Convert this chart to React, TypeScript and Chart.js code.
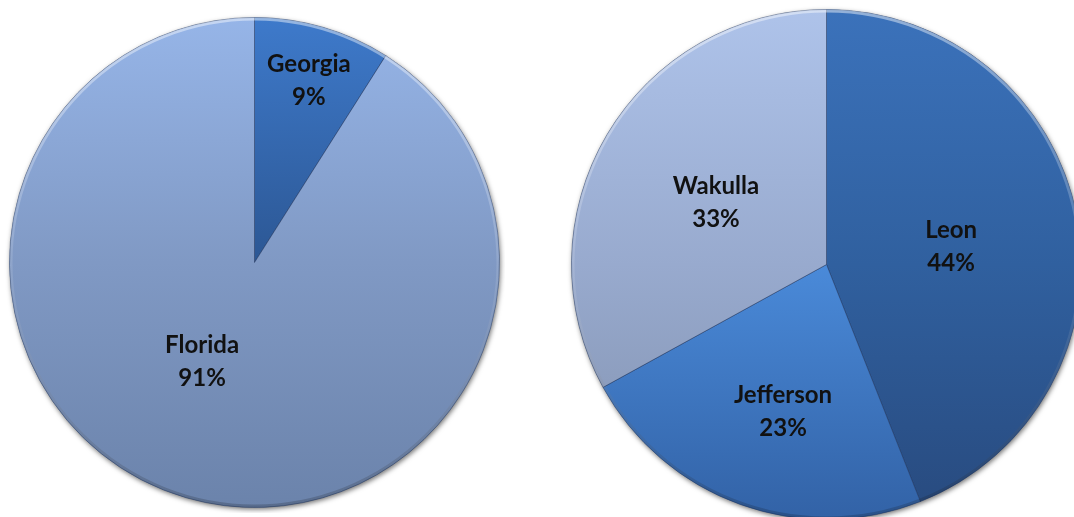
import React, { useEffect, useRef } from "react";
import { Chart, registerables } from "chart.js";

Chart.register(...registerables);

// ---- data ----
const stateLabels = ["Georgia", "Florida"];
const stateValues = [9, 91];

const countyLabels = ["Leon", "Jefferson", "Wakulla"];
const countyValues = [44, 23, 33];

// ---- styles ----
const stateGradients = [
  ["#3e7acb", "#2c5794", "#1f3f6e"],
  ["#96b5e8", "#8099c4", "#6b83ab"],
];
const countyGradients = [
  ["#3b72bb", "#30609f", "#284a7e"],
  ["#5ea2f5", "#4a8ad9", "#3262a6"],
  ["#aec3ea", "#98aace", "#8090ad"],
];
const stateLabelRadius = [0.777, 0.457];
const stateLabelShift = [0.4, 11.7];
const countyLabelRadius = [0.494, 0.6, 0.498];
const countyLabelShift = [2.4, -3.3, -1.1];

const FONT = "bold 24px Lato, 'Open Sans', sans-serif";

function makePie(
  canvas: HTMLCanvasElement,
  labels: string[],
  values: number[],
  grads: string[][],
  labelRadius: number[],
  labelShift: number[]
) {
  const total = values.reduce((a, b) => a + b, 0);
  const shadowPlugin = {
    id: "shadowPlugin",
    beforeDatasetsDraw(chart: any) {
      const arc = chart.getDatasetMeta(0).data[0];
      if (!arc) return;
      const { x, y, outerRadius } = arc.getProps(["x", "y", "outerRadius"], true);
      const ctx = chart.ctx;
      ctx.save();
      ctx.beginPath();
      ctx.arc(x, y, outerRadius, 0, Math.PI * 2);
      ctx.shadowColor = "rgba(0,0,0,0.55)";
      ctx.shadowBlur = 5;
      ctx.shadowOffsetX = 1;
      ctx.shadowOffsetY = 2;
      ctx.fillStyle = "#6a7fa0";
      ctx.fill();
      ctx.restore();
    },
    afterDatasetsDraw(chart: any) {
      const meta = chart.getDatasetMeta(0);
      const ctx = chart.ctx;
      const first = meta.data[0];
      if (!first) return;
      const { x: cx, y: cy, outerRadius: R } = first.getProps(["x", "y", "outerRadius"], true);
      // rim bevel
      ctx.save();
      const g = ctx.createLinearGradient(0, cy - R, 0, cy + R);
      g.addColorStop(0, "rgba(255,255,255,0.45)");
      g.addColorStop(0.5, "rgba(255,255,255,0.12)");
      g.addColorStop(1, "rgba(0,0,0,0.18)");
      ctx.strokeStyle = g;
      ctx.lineWidth = 3;
      ctx.beginPath();
      ctx.arc(cx, cy, R - 1.5, 0, Math.PI * 2);
      ctx.stroke();
      ctx.restore();
      // labels
      ctx.save();
      ctx.font = FONT;
      ctx.fillStyle = "#111";
      ctx.textAlign = "center";
      ctx.textBaseline = "middle";
      meta.data.forEach((arc: any, i: number) => {
        const { x, y, startAngle, endAngle, outerRadius } = arc.getProps(
          ["x", "y", "startAngle", "endAngle", "outerRadius"],
          true
        );
        const mid = (startAngle + endAngle) / 2 + (labelShift[i] * Math.PI) / 180;
        const d = outerRadius * labelRadius[i];
        const px = x + Math.cos(mid) * d;
        const py = y + Math.sin(mid) * d;
        const pct = Math.round((values[i] / total) * 100) + "%";
        ctx.fillText(labels[i], px, py - 16);
        ctx.fillText(pct, px, py + 17);
      });
      ctx.restore();
    },
  };

  return new Chart(canvas, {
    type: "pie",
    data: {
      labels,
      datasets: [
        {
          data: values,
          backgroundColor: (c: any) => {
            const chart = c.chart;
            const area = chart.chartArea;
            const stops = grads[c.dataIndex] || grads[0];
            if (!area) return stops[1];
            const g = chart.ctx.createLinearGradient(0, area.top, 0, area.bottom);
            g.addColorStop(0, stops[0]);
            g.addColorStop(0.5, stops[1]);
            g.addColorStop(1, stops[2]);
            return g;
          },
          borderColor: "rgba(30,50,90,0.45)",
          borderWidth: 1,
        },
      ],
    },
    options: {
      responsive: false,
      maintainAspectRatio: false,
      animation: false,
      layout: { padding: 5 },
      plugins: {
        legend: { display: false },
        tooltip: { enabled: false },
      },
      events: [],
    },
    plugins: [shadowPlugin],
  });
}

export default function App() {
  const leftRef = useRef<HTMLCanvasElement>(null);
  const rightRef = useRef<HTMLCanvasElement>(null);

  useEffect(() => {
    const a = makePie(leftRef.current!, stateLabels, stateValues, stateGradients, stateLabelRadius, stateLabelShift);
    const b = makePie(rightRef.current!, countyLabels, countyValues, countyGradients, countyLabelRadius, countyLabelShift);
    return () => {
      a.destroy();
      b.destroy();
    };
  }, []);

  return (
    <div
      style={{
        position: "fixed",
        left: 0,
        top: 0,
        width: 1074,
        height: 517,
        overflow: "hidden",
        background: "#fff",
      }}
    >
      <canvas
        ref={leftRef}
        width={501}
        height={501}
        style={{ position: "absolute", left: 4, top: 12, width: 501, height: 501 }}
      />
      <canvas
        ref={rightRef}
        width={521}
        height={521}
        style={{ position: "absolute", left: 566, top: 4, width: 521, height: 521 }}
      />
    </div>
  );
}
